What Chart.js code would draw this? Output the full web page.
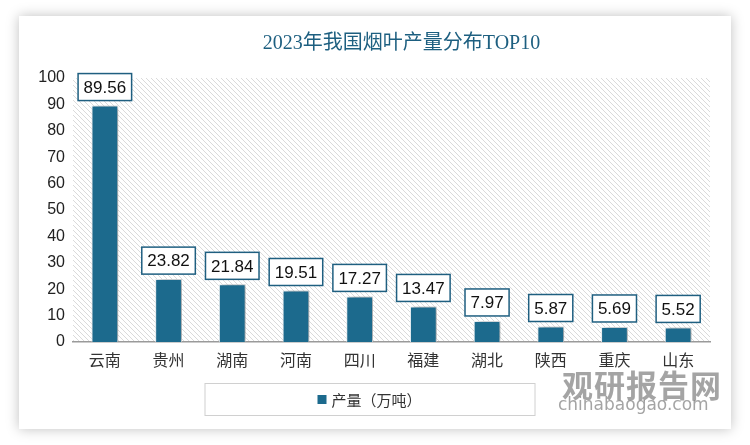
<!DOCTYPE html>
<html>
<head>
<meta charset="utf-8">
<script src="https://cdn.jsdelivr.net/npm/chart.js@4.4.0/dist/chart.umd.min.js"></script>
<style>
  html, body { margin: 0; padding: 0; background: #fff; width: 750px; height: 445px; overflow: hidden; }
  #card {
    position: absolute; left: 19px; top: 16px; width: 712px; height: 413px;
    background: #fff; box-shadow: 0 0 12px rgba(0,0,0,0.25);
  }
  #mark1 {
    position: absolute; left: 562px; top: 361px; font: bold 31px "Noto Sans CJK SC", sans-serif;
    color: rgba(125,125,125,0.7); letter-spacing: 1px;
  }
  #mark2 {
    position: absolute; left: 558px; top: 394px; font: 17px "DejaVu Sans", sans-serif;
    color: rgba(125,125,125,0.7);
  }
</style>
</head>
<body>
<div id="card"><canvas id="c" width="712" height="413"></canvas></div>
<div id="mark1">观研报告网</div>
<div id="mark2">chinabaogao.com</div>
<script>
// 数据
const provinces = ["云南", "贵州", "湖南", "河南", "四川", "福建", "湖北", "陕西", "重庆", "山东"];
const output = [89.56, 23.82, 21.84, 19.51, 17.27, 13.47, 7.97, 5.87, 5.69, 5.52];
const yTicks = [0, 10, 20, 30, 40, 50, 60, 70, 80, 90, 100];
const seriesName = "产量（万吨）";
const titleText = "2023年我国烟叶产量分布TOP10";

const barColor = "#1c6a8d";
const cjk = '"Noto Sans CJK SC", sans-serif';
const latin = '"Liberation Sans", "DejaVu Sans", sans-serif';

// 斜线底纹
function makeHatch() {
    const p = document.createElement("canvas");
    p.width = 5; p.height = 5;
    const g = p.getContext("2d");
    g.fillStyle = "#fff";
    g.fillRect(0, 0, 5, 5);
    g.strokeStyle = "#dadada";
    g.lineWidth = 1;
    g.beginPath();
    g.moveTo(-1, -1); g.lineTo(6, 6);
    g.moveTo(-1, 4); g.lineTo(1, 6);
    g.moveTo(4, -1); g.lineTo(6, 1);
    g.stroke();
    return p;
}

const hatchBg = {
    id: "hatchBg",
    beforeDraw(chart) {
        const { ctx, chartArea: a } = chart;
        ctx.save();
        ctx.fillStyle = ctx.createPattern(makeHatch(), "repeat");
        ctx.fillRect(a.left, a.top, a.right - a.left, a.bottom - a.top);
        ctx.restore();
        // 标题
        ctx.save();
        ctx.font = '20px "Liberation Serif", "Noto Sans CJK SC", serif';
        ctx.fillStyle = "#1d5f80";
        ctx.textAlign = "center";
        ctx.textBaseline = "middle";
        ctx.fillText(titleText, (a.left + a.right) / 2 + 10, 28);
        ctx.restore();
    },
    beforeDatasetsDraw(chart) {
        const ctx = chart.ctx;
        ctx.save();
        ctx.shadowColor = "rgba(0,0,0,0.35)";
        ctx.shadowBlur = 5;
        ctx.shadowOffsetX = 3;
        ctx.shadowOffsetY = 0;
    },
    afterDatasetsDraw(chart) {
        const ctx = chart.ctx;
        ctx.restore();
        // 数据标签
        const meta = chart.getDatasetMeta(0);
        ctx.save();
        ctx.font = "17px " + latin;
        ctx.textAlign = "center";
        ctx.textBaseline = "middle";
        meta.data.forEach((bar, i) => {
            const txt = output[i].toFixed(2);
            const w = ctx.measureText(txt).width + 11;
            const h = 27;
            const x = bar.x - w / 2;
            const y = bar.y - 5 - h;
            ctx.fillStyle = "#fff";
            ctx.fillRect(x, y, w, h);
            ctx.strokeStyle = "#1f5f80";
            ctx.lineWidth = 1.5;
            ctx.strokeRect(x, y, w, h);
            ctx.fillStyle = "#111";
            ctx.fillText(txt, bar.x, y + h / 2 + 1);
        });
        ctx.restore();
    },
    afterDraw(chart) {
        // 图例
        const ctx = chart.ctx;
        const a = chart.chartArea;
        const cx = (a.left + a.right) / 2 - 22;
        ctx.save();
        ctx.strokeStyle = "#d0d0d0";
        ctx.lineWidth = 1;
        ctx.strokeRect(cx - 165 + 0.5, 367.5, 330, 32);
        ctx.font = "15px " + cjk;
        ctx.textBaseline = "middle";
        const tw = ctx.measureText(seriesName).width;
        const sx = cx - (tw + 14) / 2;
        ctx.fillStyle = barColor;
        ctx.fillRect(sx, 379, 9, 9);
        ctx.fillStyle = "#333";
        ctx.fillText(seriesName, sx + 14, 384);
        ctx.restore();
    }
};

new Chart(document.getElementById("c"), {
    type: "bar",
    data: {
        labels: provinces,
        datasets: [{
            label: seriesName,
            data: output,
            backgroundColor: barColor,
            borderColor: "rgba(235,242,246,0.9)",
            borderWidth: 1,
            barPercentage: 0.42,
            categoryPercentage: 1
        }]
    },
    options: {
        responsive: false,
        animation: false,
        devicePixelRatio: 1,
        layout: { padding: { top: 62, right: 21, bottom: 57, left: 0 } },
        plugins: { legend: { display: false }, tooltip: { enabled: false } },
        scales: {
            x: {
                grid: { display: false, drawTicks: false },
                border: { display: true, color: "#9a9a9a", width: 1.5 },
                ticks: { color: "#333", font: { size: 16, family: cjk }, padding: 8 },
                afterFit(s) { s.height = 30; }
            },
            y: {
                min: 0, max: 100,
                afterBuildTicks(s) { s.ticks = yTicks.map(v => ({ value: v })); },
                grid: { display: false, drawTicks: false },
                border: { display: false },
                ticks: { color: "#222", font: { size: 16, family: latin }, padding: 8 },
                afterFit(s) { s.width = 54; }
            }
        }
    },
    plugins: [hatchBg]
});
</script>
</body>
</html>
